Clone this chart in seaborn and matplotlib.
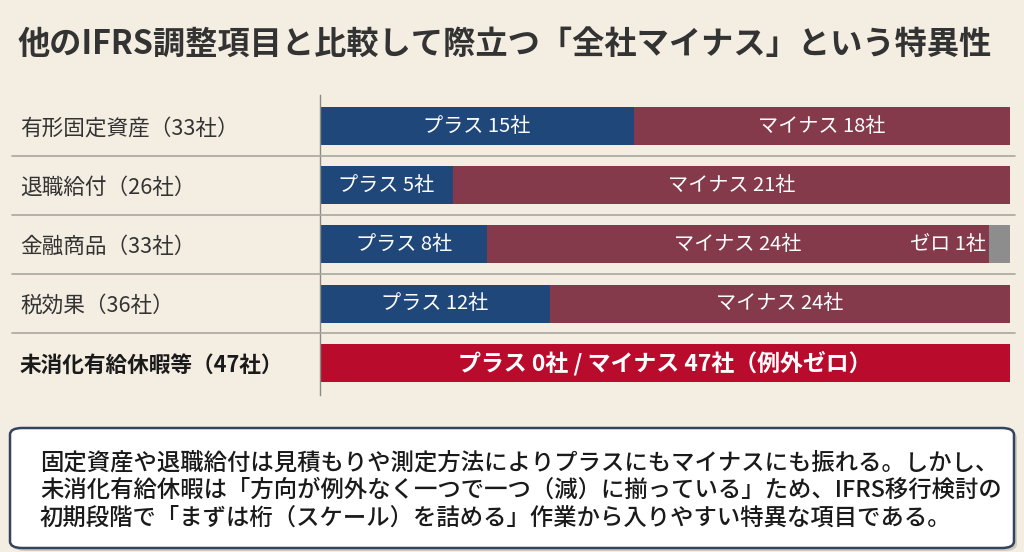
import matplotlib
matplotlib.use("Agg")
import matplotlib.pyplot as plt
import matplotlib.transforms as mtransforms
from matplotlib.lines import Line2D
from matplotlib.patches import FancyBboxPatch
import seaborn as sns
import pandas as pd

# ---- data ----
categories = ["有形固定資産（33社）", "退職給付（26社）", "金融商品（33社）", "税効果（36社）", "未消化有給休暇等（47社）"]
plus_counts = [15, 5, 8, 12, 0]
minus_counts = [18, 21, 24, 24, 47]
zero_counts = [0, 0, 1, 0, 0]
title_text = "他のIFRS調整項目と比較して際立つ「全社マイナス」という特異性"
note_lines = [
    "固定資産や退職給付は見積もりや測定方法によりプラスにもマイナスにも振れる。しかし、",
    "未消化有給休暇は「方向が例外なく一つで一つ（減）に揃っている」ため、IFRS移行検討の",
    "初期段階で「まずは桁（スケール）を詰める」作業から入りやすい特異な項目である。",
]

BG = "#f4eee2"
BLUE = "#1f477a"
MAROON = "#843a4b"
GRAY = "#8d8d8d"
RED = "#b90b2c"

sns.set_theme(style="white")
plt.rcParams["font.family"] = ["Noto Sans CJK JP", "DejaVu Sans"]

totals = [p + m + z for p, m, z in zip(plus_counts, minus_counts, zero_counts)]
df = pd.DataFrame({
    "cat": categories,
    "plus": [p / t for p, t in zip(plus_counts, totals)],
    "pm": [(p + m) / t for p, m, t in zip(plus_counts, minus_counts, totals)],
    "all": [1.0] * len(categories),
})
highlight = [i == len(categories) - 1 for i in range(len(categories))]

W, H = 1024, 552
fig = plt.figure(figsize=(W / 100, H / 100), dpi=100, facecolor=BG)
ax = fig.add_axes([320 / W, 1 - 395 / H, (1010 - 320) / W, 300 / H])
ax.set_facecolor(BG)

bw = 0.64
pal_all = {c: (RED if h else GRAY) for c, h in zip(categories, highlight)}
pal_pm = {c: (RED if h else MAROON) for c, h in zip(categories, highlight)}
pal_plus = {c: BLUE for c in categories}
for col, pal in (("all", pal_all), ("pm", pal_pm), ("plus", pal_plus)):
    sns.barplot(data=df, x=col, y="cat", hue="cat", palette=pal, width=bw,
                saturation=1, errorbar=None, legend=False, ax=ax, orient="h",
                linewidth=0)

ax.set_xlim(0, 1)
ax.set_ylim(4.544, -0.524)
ax.set_xlabel("")
ax.set_ylabel("")
ax.set_xticks([])
for s in ["top", "right", "bottom"]:
    ax.spines[s].set_visible(False)
ax.spines["left"].set_color("#8a8a86")
ax.spines["left"].set_linewidth(1.0)

# category labels as y tick labels, left-aligned near the figure edge
ax.set_yticks(range(len(categories)))
ax.set_yticklabels(categories)
ax.tick_params(axis="y", length=0, pad=(320 - 20) * 0.72)
for lab, h in zip(ax.get_yticklabels(), highlight):
    lab.set_horizontalalignment("left")
    lab.set_fontsize(15.6)
    if h:
        lab.set_fontweight("bold")
        lab.set_color("#1a1a1a")
    else:
        lab.set_color("#333333")

# separators spanning across the figure
trans = mtransforms.blended_transform_factory(fig.transFigure, ax.transData)
for i in range(len(categories) - 1):
    fig.add_artist(Line2D([12 / W, 1015 / W], [i + 0.5, i + 0.5], transform=trans,
                          color="#a9a79f", lw=1.2))

# bar labels
for i, c in enumerate(categories):
    p, m, z, t = plus_counts[i], minus_counts[i], zero_counts[i], totals[i]
    if highlight[i]:
        ax.text(0.5, i, f"プラス {p}社 / マイナス {m}社（例外ゼロ）", ha="center", va="center",
                color="white", fontsize=16.5, fontweight="bold")
        continue
    ps, ms = p / t, m / t
    ax.text(ps / 2, i, f"プラス {p}社", ha="center", va="center", color="white", fontsize=14.5)
    ax.text(ps + ms / 2, i, f"マイナス {m}社", ha="center", va="center", color="white", fontsize=14.5)
    if z:
        ax.text(ps + ms - 0.004, i, f"ゼロ {z}社", ha="right", va="center", color="white", fontsize=14.5)

# title
fig.text(18 / W, 1 - 45 / H, title_text, ha="left", va="center", fontsize=23.2,
         fontweight="bold", color="#333333")

# note box with shadow
sh = FancyBboxPatch((13 / W, 1 - 551 / H), (1004) / W, 120 / H,
                    boxstyle="round,pad=0,rounding_size=0.012", transform=fig.transFigure,
                    facecolor="#b9b5ad", edgecolor="none", alpha=0.6)
fig.add_artist(sh)
box = FancyBboxPatch((10 / W, 1 - 548 / H), (1004) / W, 120 / H,
                     boxstyle="round,pad=0,rounding_size=0.012", transform=fig.transFigure,
                     facecolor="white", edgecolor="#34445c", lw=1.8)
fig.add_artist(box)
for k, line in enumerate(note_lines):
    fig.text(40 / W, 1 - (463 + 27.5 * k) / H, line, ha="left", va="center",
             fontsize=16.8, fontweight="medium", color="#1a1a1a")

fig.savefig("out.png", dpi=100, facecolor=BG)
